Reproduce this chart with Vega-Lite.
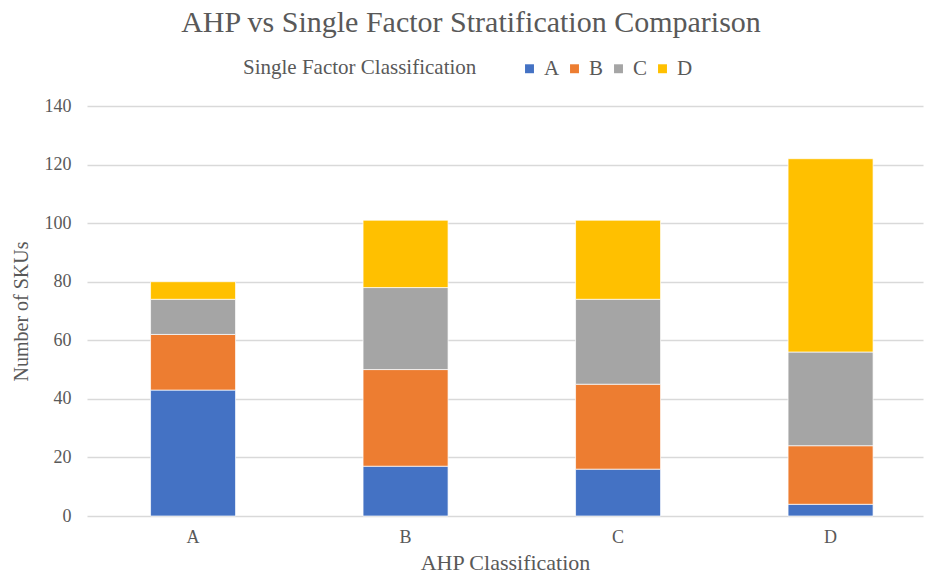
{
  "$schema": "https://vega.github.io/schema/vega-lite/v6.json",
  "autosize": "none",
  "width": 836,
  "height": 410,
  "padding": {"left": 87, "top": 106, "right": 3, "bottom": 61},
  "background": "white",
  "title": {
    "text": "AHP vs Single Factor Stratification Comparison",
    "font": "Liberation Serif",
    "fontSize": 30,
    "fontWeight": "normal",
    "color": "#595959",
    "anchor": "middle",
    "frame": "group",
    "dx": -34,
    "offset": 20
  },
  "data": {
    "values": [
      {"ahp": "A", "single": "A", "count": 43},
      {"ahp": "A", "single": "B", "count": 19},
      {"ahp": "A", "single": "C", "count": 12},
      {"ahp": "A", "single": "D", "count": 6},
      {"ahp": "B", "single": "A", "count": 17},
      {"ahp": "B", "single": "B", "count": 33},
      {"ahp": "B", "single": "C", "count": 28},
      {"ahp": "B", "single": "D", "count": 23},
      {"ahp": "C", "single": "A", "count": 16},
      {"ahp": "C", "single": "B", "count": 29},
      {"ahp": "C", "single": "C", "count": 29},
      {"ahp": "C", "single": "D", "count": 27},
      {"ahp": "D", "single": "A", "count": 4},
      {"ahp": "D", "single": "B", "count": 20},
      {"ahp": "D", "single": "C", "count": 32},
      {"ahp": "D", "single": "D", "count": 66}
    ]
  },
  "mark": {"type": "bar", "stroke": "white", "strokeWidth": 0.7},
  "encoding": {
    "x": {
      "field": "ahp",
      "type": "nominal",
      "title": "AHP Classification",
      "scale": {"paddingInner": 0.6, "paddingOuter": 0.267, "align": 0.56},
      "axis": {
        "labelAngle": 0,
        "ticks": false,
        "domain": false,
        "labelPadding": 12,
        "titlePadding": 6,
        "titleFontSize": 22
      }
    },
    "y": {
      "field": "count",
      "type": "quantitative",
      "title": "Number of SKUs",
      "stack": "zero",
      "scale": {"domain": [0, 140]},
      "axis": {
        "values": [0, 20, 40, 60, 80, 100, 120, 140],
        "ticks": false,
        "domain": false,
        "labelPadding": 16,
        "titlePadding": 13,
        "titleFontSize": 20
      }
    },
    "color": {
      "field": "single",
      "type": "nominal",
      "title": "Single Factor Classification",
      "scale": {"domain": ["A", "B", "C", "D"], "range": ["#4472C4", "#ED7D31", "#A5A5A5", "#FFC000"]},
      "legend": {
        "orient": "none",
        "direction": "horizontal",
        "titleOrient": "left",
        "legendX": 156,
        "legendY": -48,
        "symbolType": "square",
        "symbolSize": 80,
        "symbolStrokeWidth": 0,
        "columnPadding": 4,
        "labelOffset": 4,
        "titlePadding": 42,
        "titleLimit": 400
      }
    },
    "order": {"field": "single", "sort": "ascending"}
  },
  "config": {
    "view": {"stroke": null},
    "font": "Liberation Serif",
    "axis": {
      "labelFont": "Liberation Serif",
      "titleFont": "Liberation Serif",
      "labelFontSize": 18,
      "titleFontWeight": "normal",
      "labelColor": "#595959",
      "titleColor": "#595959",
      "gridColor": "#d9d9d9",
      "gridWidth": 1.3
    },
    "axisX": {"grid": false},
    "legend": {
      "labelFont": "Liberation Serif",
      "titleFont": "Liberation Serif",
      "labelFontSize": 21,
      "titleFontSize": 21,
      "titleFontWeight": "normal",
      "labelColor": "#595959",
      "titleColor": "#595959"
    }
  }
}
